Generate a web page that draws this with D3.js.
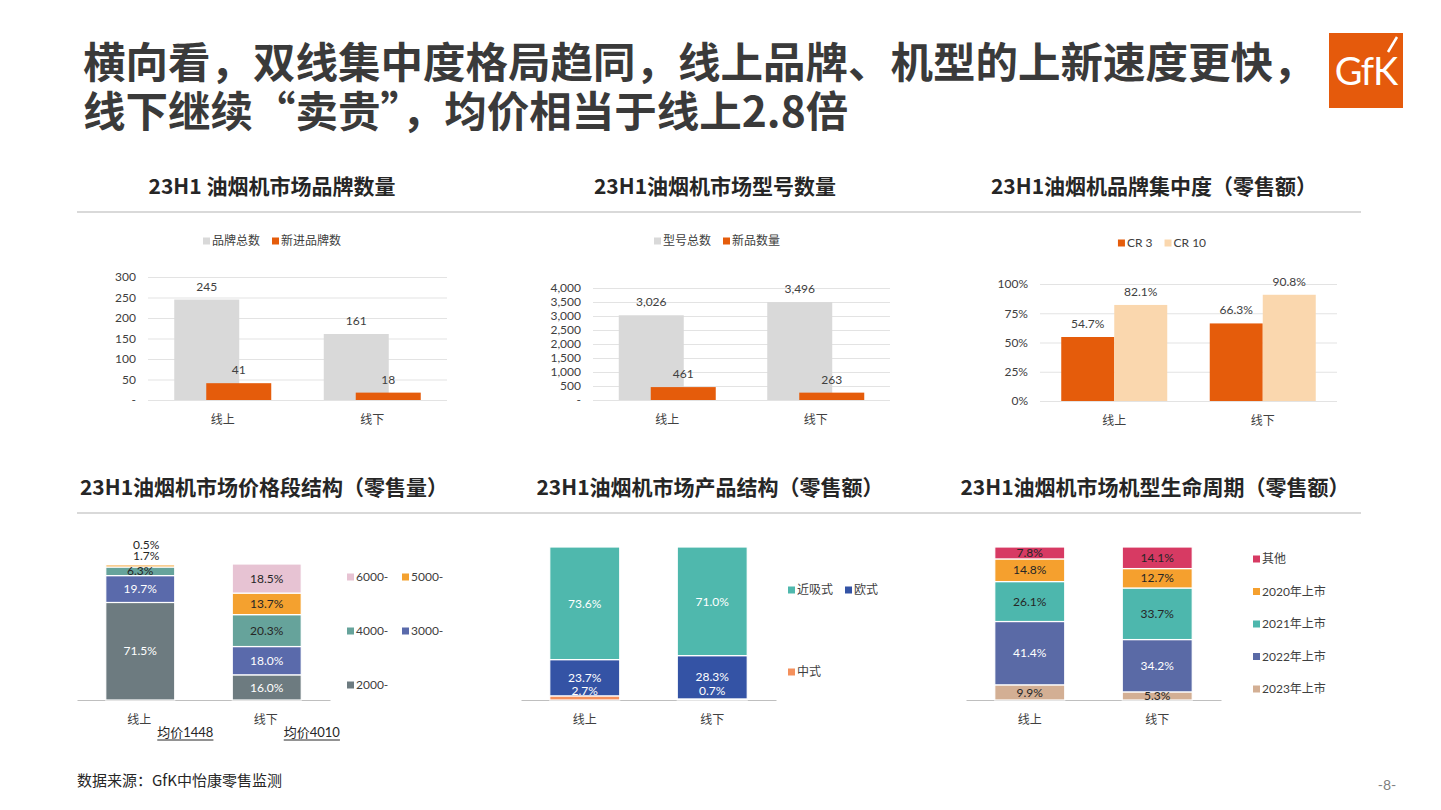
<!DOCTYPE html>
<html><head><meta charset="utf-8">
<script src="https://cdn.jsdelivr.net/npm/d3@7"></script>
<style>
body{margin:0;background:#fff}
svg{display:block}
text{font-family:Lato,"Noto Sans CJK SC",sans-serif}
.cjk{font-family:"Noto Sans CJK SC",sans-serif}
</style>
</head><body>
<svg id="c" width="1441" height="810"></svg>
<script>
// ---------------- data ----------------
const categories = ["线上", "线下"];

const brandSeries = ["品牌总数", "新进品牌数"];
const brandTotal = [245, 161];
const brandNew = [41, 18];
const brandTicks = [0, 50, 100, 150, 200, 250, 300];

const modelSeries = ["型号总数", "新品数量"];
const modelTotal = [3026, 3496];
const modelNew = [461, 263];
const modelTicks = [0, 500, 1000, 1500, 2000, 2500, 3000, 3500, 4000];

const crSeries = ["CR 3", "CR 10"];
const cr3 = [54.7, 66.3];
const cr10 = [82.1, 90.8];
const crTicks = [0, 25, 50, 75, 100];

const priceSeries = ["2000-", "3000-", "4000-", "5000-", "6000-"];
const priceOnline = [71.5, 19.7, 6.3, 1.7, 0.5];
const priceOffline = [16.0, 18.0, 20.3, 13.7, 18.5];
const avgPrices = ["均价1448", "均价4010"];

const productSeries = ["中式", "欧式", "近吸式"];
const productOnline = [2.7, 23.7, 73.6];
const productOffline = [0.7, 28.3, 71.0];

const lifeSeries = ["2023年上市", "2022年上市", "2021年上市", "2020年上市", "其他"];
const lifeOnline = [9.9, 41.4, 26.1, 14.8, 7.8];
const lifeOffline = [5.3, 34.2, 33.7, 12.7, 14.1];

const titleLines = ["横向看，双线集中度格局趋同，线上品牌、机型的上新速度更快，", "线下继续“卖贵”，均价相当于线上2.8倍"];
const sectionTitles = ["23H1 油烟机市场品牌数量", "23H1油烟机市场型号数量", "23H1油烟机品牌集中度（零售额）",
  "23H1油烟机市场价格段结构（零售量）", "23H1油烟机市场产品结构（零售额）", "23H1油烟机市场机型生命周期（零售额）"];
const sourceText = "数据来源：GfK中怡康零售监测";
const pageText = "-8-";

// ---------------- styles ----------------
const ORANGE = "#E55C0B", GRAY = "#D9D9D9", PEACH = "#FAD7AE";
const TXT = "#404040", DARK = "#262626";

const svg = d3.select("#c");

// main title
svg.append("g").selectAll("text").data(titleLines).join("text")
  .attr("class", "cjk").attr("x", 83).attr("y", (d, i) => 78 + i * 49)
  .attr("font-size", 42.5).attr("font-weight", 700).attr("fill", "#3a3a3a").text(d => d);

// GfK logo
const logo = svg.append("g");
logo.append("rect").attr("x", 1329).attr("y", 33).attr("width", 74).attr("height", 75).attr("fill", "#E55A0C");
logo.append("text").attr("x", 1366).attr("y", 85).attr("text-anchor", "middle").attr("font-size", 38)
  .attr("fill", "#fff").attr("font-family", "'Open Sans',sans-serif").attr("letter-spacing", -1).text("GfK");
logo.append("line").attr("x1", 1397).attr("y1", 37).attr("x2", 1388).attr("y2", 52).attr("stroke", "#fff").attr("stroke-width", 2.5);

// section titles + dividers
const secX = [272, 715, 1154, 264, 710, 1155];
svg.append("g").selectAll("text").data(sectionTitles).join("text")
  .attr("class", "cjk").attr("x", (d, i) => secX[i]).attr("y", (d, i) => i < 3 ? 194 : 495)
  .attr("text-anchor", "middle").attr("font-size", 21).attr("font-weight", 700).attr("fill", DARK).text(d => d);
svg.append("g").selectAll("line").data([212, 513]).join("line")
  .attr("x1", 77).attr("x2", 1361).attr("y1", d => d).attr("y2", d => d).attr("stroke", "#D9D9D9").attr("stroke-width", 2);

// footer
svg.append("text").attr("class", "cjk").attr("x", 77).attr("y", 786).attr("font-size", 15).attr("fill", DARK).text(sourceText);
svg.append("text").attr("x", 1387).attr("y", 790).attr("text-anchor", "middle").attr("font-size", 14).attr("fill", "#7f7f7f").text(pageText);

// ---------------- helpers ----------------
function legendRow(g, items, cx, cy) {
  const lg = g.append("g");
  let xpos = 0;
  items.forEach(it => {
    const ig = lg.append("g").attr("transform", `translate(${xpos},0)`);
    ig.append("rect").attr("x", 0).attr("y", cy - 3.5).attr("width", 7).attr("height", 7).attr("fill", it.color);
    const t = ig.append("text").attr("x", 9).attr("y", cy).attr("dy", "0.35em").attr("font-size", 12).attr("fill", TXT).text(it.name);
    xpos += 9 + t.node().getComputedTextLength() + 12;
  });
  const w = xpos - 12;
  lg.attr("transform", `translate(${cx - w / 2},0)`);
}

function groupedChart(o) {
  const g = svg.append("g");
  const x = d3.scaleBand().domain(categories).range([o.x0, o.x1]);
  const y = d3.scaleLinear().domain([0, o.max]).range([o.yBottom, o.yTop]);
  const ax = g.append("g").attr("transform", `translate(${o.x0},0)`)
    .call(d3.axisLeft(y).tickValues(o.ticks).tickFormat(o.tickFmt).tickSize(-(o.x1 - o.x0)).tickPadding(12));
  ax.select(".domain").remove();
  ax.selectAll("line").attr("stroke", "#E3E3E3");
  ax.selectAll("text").attr("font-size", 12).attr("fill", TXT).attr("font-family", "Lato,'Noto Sans CJK SC',sans-serif");
  const bx = g.append("g").attr("transform", `translate(0,${o.yBottom})`)
    .call(d3.axisBottom(x).tickSize(0).tickPadding(15));
  bx.select(".domain").remove();
  bx.selectAll("text").attr("font-size", 12).attr("fill", TXT).attr("font-family", "'Noto Sans CJK SC',sans-serif");
  o.series.forEach((s, si) => {
    const sg = g.append("g");
    const cx = c => x(c) + x.bandwidth() / 2 + o.offsets[si];
    sg.selectAll("rect").data(categories).join("rect")
      .attr("x", c => cx(c) - o.barW / 2).attr("width", o.barW)
      .attr("y", (c, i) => y(s.values[i])).attr("height", (c, i) => o.yBottom - y(s.values[i]))
      .attr("fill", s.color);
    sg.selectAll("text").data(categories).join("text")
      .attr("x", cx).attr("y", (c, i) => y(s.values[i]) - 9).attr("text-anchor", "middle")
      .attr("font-size", 12).attr("fill", TXT).text((c, i) => o.labelFmt(s.values[i]));
  });
  legendRow(g, o.series.map(s => ({ name: s.name, color: s.color })), o.legendX, o.legendY);
}

groupedChart({
  x0: 148, x1: 447, yTop: 400 - 123, yBottom: 400, max: 300, ticks: brandTicks,
  tickFmt: d => d === 0 ? "-" : d3.format(",")(d),
  series: [{ name: brandSeries[0], values: brandTotal, color: GRAY }, { name: brandSeries[1], values: brandNew, color: ORANGE }],
  barW: 65, offsets: [-16, 16], labelFmt: d3.format(","), legendX: 272, legendY: 241
});
groupedChart({
  x0: 593, x1: 890, yTop: 288, yBottom: 400, max: 4000, ticks: modelTicks,
  tickFmt: d => d === 0 ? "-" : d3.format(",")(d),
  series: [{ name: modelSeries[0], values: modelTotal, color: GRAY }, { name: modelSeries[1], values: modelNew, color: ORANGE }],
  barW: 65, offsets: [-16, 16], labelFmt: d3.format(","), legendX: 717, legendY: 241
});
groupedChart({
  x0: 1040, x1: 1337, yTop: 284, yBottom: 401, max: 100, ticks: crTicks,
  tickFmt: d => d + "%",
  series: [{ name: crSeries[0], values: cr3, color: ORANGE }, { name: crSeries[1], values: cr10, color: PEACH }],
  barW: 53, offsets: [-26.5, 26.5], labelFmt: d => d.toFixed(1) + "%", legendX: 1162, legendY: 243
});

function stackedChart(o) {
  const g = svg.append("g");
  const rows = categories.map((c, ci) => {
    const r = { cat: c };
    o.series.forEach((s, si) => r[s] = o.values[ci][si]);
    return r;
  });
  const stack = d3.stack().keys(o.series).offset(d3.stackOffsetExpand)(rows);
  const x = d3.scaleBand().domain(categories).range([o.x0, o.x1]);
  const y = d3.scaleLinear().domain([0, 1]).range([o.yBottom, o.yTop]);
  const cx = c => x(c) + x.bandwidth() / 2;
  const bx = g.append("g").attr("transform", `translate(0,${o.yBottom})`)
    .call(d3.axisBottom(x).tickSize(0).tickSizeOuter(0).tickPadding(15));
  bx.select(".domain").attr("stroke", "#BFBFBF");
  bx.selectAll("text").attr("font-size", 12).attr("fill", TXT).attr("font-family", "'Noto Sans CJK SC',sans-serif")
    .attr("dx", o.catDx || 0);
  stack.forEach((layer, li) => {
    const lg = g.append("g");
    lg.selectAll("rect").data(layer).join("rect")
      .attr("x", d => cx(d.data.cat) - o.barW / 2).attr("width", o.barW)
      .attr("y", d => y(d[1])).attr("height", d => y(d[0]) - y(d[1]))
      .attr("fill", o.colors[li]).attr("stroke", "#fff").attr("stroke-width", 1.2);
  });
  categories.forEach((c, ci) => {
    let outsideRank = 0;
    stack.forEach((layer, li) => {
      const d = layer[ci];
      const v = o.values[ci][li];
      let ly = (y(d[0]) + y(d[1])) / 2, lx = cx(c);
      if (o.small === "above" && v < 2) { ly = y(1) - 8 - 11 * outsideRank; lx += 6; outsideRank++; }
      if (o.small === "lift" && v < 5) { ly = o.yBottom - 9; }
      g.append("text").attr("x", lx).attr("y", ly).attr("dy", "0.35em").attr("text-anchor", "middle")
        .attr("font-size", 12).attr("fill", o.labelColors[li]).text(v.toFixed(1) + "%");
    });
  });
  const leg = g.append("g");
  const order = o.series.map((s, i) => i).reverse();
  order.forEach((si, k) => {
    const col = k % o.perRow, row = Math.floor(k / o.perRow);
    const lx = o.legX + col * o.legDx, ly = o.legY + row * o.legDy;
    leg.append("rect").attr("x", lx).attr("y", ly - 3.5).attr("width", 7).attr("height", 7).attr("fill", o.colors[si]);
    leg.append("text").attr("x", lx + 9).attr("y", ly).attr("dy", "0.35em").attr("font-size", 12).attr("fill", TXT).text(o.series[si]);
  });
  return { g, x, cx };
}

const pc = stackedChart({
  x0: 77, x1: 330, yTop: 564, yBottom: 700, barW: 69,
  series: priceSeries, values: [priceOnline, priceOffline],
  colors: ["#6D7B80", "#5A6AAB", "#66A39B", "#F4A12F", "#E7C3D3"],
  labelColors: ["#fff", "#fff", DARK, DARK, DARK],
  small: "above", perRow: 2, legX: 347, legDx: 55, legY: 577, legDy: 54, catDx: -1
});
categories.forEach((c, i) => {
  const tx = pc.cx(c) + 17, ty = 737;
  const t = pc.g.append("text").attr("x", tx).attr("y", ty).attr("font-size", 13).attr("fill", DARK).text(avgPrices[i]);
  const w = t.node().getComputedTextLength();
  pc.g.append("line").attr("x1", tx).attr("x2", tx + w).attr("y1", ty + 3).attr("y2", ty + 3).attr("stroke", DARK).attr("stroke-width", 1);
});

stackedChart({
  x0: 521, x1: 776, yTop: 547, yBottom: 700, barW: 70,
  series: productSeries, values: [productOnline, productOffline],
  colors: ["#F4905C", "#3453A5", "#4FB8AD"],
  labelColors: ["#fff", "#fff", "#fff"],
  small: "lift", perRow: 2, legX: 788, legDx: 57, legY: 590, legDy: 82
});

stackedChart({
  x0: 966, x1: 1221, yTop: 547, yBottom: 700, barW: 70,
  series: lifeSeries, values: [lifeOnline, lifeOffline],
  colors: ["#D3AF94", "#5A6AA6", "#4DB7AD", "#F5A02E", "#D73A63"],
  labelColors: [DARK, "#fff", DARK, DARK, DARK],
  small: "none", perRow: 1, legX: 1253, legDx: 0, legY: 559, legDy: 32.5
});
</script>
</body></html>
